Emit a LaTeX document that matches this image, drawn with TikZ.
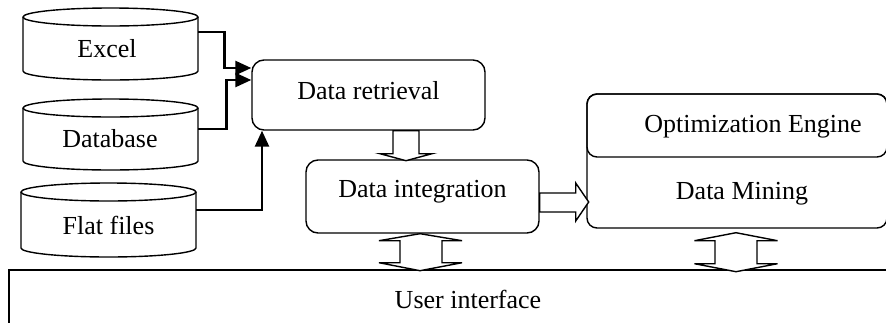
\documentclass[tikz,border=0pt]{standalone}
\usepackage{fontspec}
\setmainfont{Liberation Serif}
\usetikzlibrary{arrows.meta,calc}

\tikzset{
  outline/.style={draw=black, line width=1.4pt},
  box/.style={outline, rounded corners=12pt, inner sep=0pt},
  lbl/.style={inner sep=0pt, font=\fontsize{26}{30}\selectfont},
  conn/.style={line width=2.6pt, -{Triangle[length=16pt,width=14pt]}},
  blockarrow/.style={outline, fill=white, line join=miter},
}

% drum-shaped data store: name, left x, right x, top y, bottom y (y measured downwards)
\newcommand\drumstore[5]{%
  \pgfmathsetmacro\drx{(#3-#2)/2}%
  \pgfmathsetmacro\dxc{(#2+#3)/2}%
  \draw[outline] (\dxc,{-(#4+9)}) ellipse [x radius=\drx, y radius=9];
  \draw[outline] (#2,{-(#4+9)}) -- (#2,{-(#5-9)})
    arc[start angle=180, end angle=360, x radius=\drx, y radius=9]
    -- (#3,{-(#4+9)});
  \node[inner sep=0pt, minimum width={#3-#2}, minimum height={#5-#4-9}]
    (#1) at (\dxc,{-(#4+9+#5)/2}) {};
}

\begin{document}
\begin{tikzpicture}[x=1pt, y=1pt]
\useasboundingbox (0,0) rectangle (886,-322);
\clip (0,0) rectangle (886,-322);

% data sources
\drumstore{excel}{23}{198}{8}{80}
\drumstore{db}{23}{198}{99}{170}
\drumstore{flat}{21}{196}{183}{257}
\node[lbl] (excelT) at (107,-49) {Excel};
\node[lbl] (dbT) at (110,-139) {Database};
\node[lbl] (flatT) at (108.5,-225) {Flat files};

% processing boxes
\node[box, minimum width=233pt, minimum height=70pt] (retr) at (368.5,-95) {};
\node[lbl] (retrT) at (368.5,-91) {Data retrieval};
\node[box, minimum width=233pt, minimum height=73pt] (integ) at (422.5,-196.5) {};
\node[lbl] (integT) at (422.5,-192) {Data integration};

% analysis block
\node[box, rounded corners=10pt, minimum width=300pt, minimum height=134pt] (mining) at (737,-161) {};
\node[box, rounded corners=10pt, minimum width=300pt, minimum height=63pt] (optim) at (737,-125.5) {};
\node[lbl] (optimT) at (753,-127) {Optimization Engine};
\node[lbl] (miningT) at (742,-194) {Data Mining};

% user interface strip
\node[outline, inner sep=0pt, minimum width=891pt, minimum height=70pt] (ui) at (454.5,-305) {};
\node[lbl] (uiT) at (468,-299) {User interface};

% source connectors
\draw[conn] ([yshift=16.5pt]excel.east) -- ++(26,0) |- ([yshift=27pt]retr.west);
\draw[conn] ([yshift=10pt]db.east) -- ++(28,0) |- ([yshift=15pt]retr.west);
\draw[conn] ([yshift=14.5pt]flat.east) -| ([xshift=-106.5pt]retr.south);

% retrieval -> integration
\draw[blockarrow] ([xshift=24.5pt]retr.south) -- ++(0,-23) -- ++(-13,0) -- ++(26,-7)
  -- ++(26,7) -- ++(-13,0) -- ++(0,23) -- cycle;

% integration -> mining
\draw[blockarrow] ([yshift=3.5pt]integ.east) -- ++(36,0) -- ++(0,10) -- ++(13,-19)
  -- ++(-13,-19) -- ++(0,9) -- ++(-36,0) -- cycle;

% integration <-> user interface
\draw[blockarrow] ([xshift=-2.5pt]integ.south) -- ++(42,-7) -- ++(-20,0) -- ++(0,-22)
  -- ++(20,0) -- ++(-42,-8) -- ++(-41,8) -- ++(21,0) -- ++(0,22) -- ++(-21,0) -- cycle;

% mining <-> user interface
\draw[blockarrow] ([xshift=-1pt,yshift=-4pt]mining.south) -- ++(41.5,-8) -- ++(-20.5,0)
  -- ++(0,-23) -- ++(20.5,0) -- ++(-41.5,-8) -- ++(-41.5,8) -- ++(20.5,0) -- ++(0,23)
  -- ++(-20.5,0) -- cycle;
\end{tikzpicture}
\end{document}
